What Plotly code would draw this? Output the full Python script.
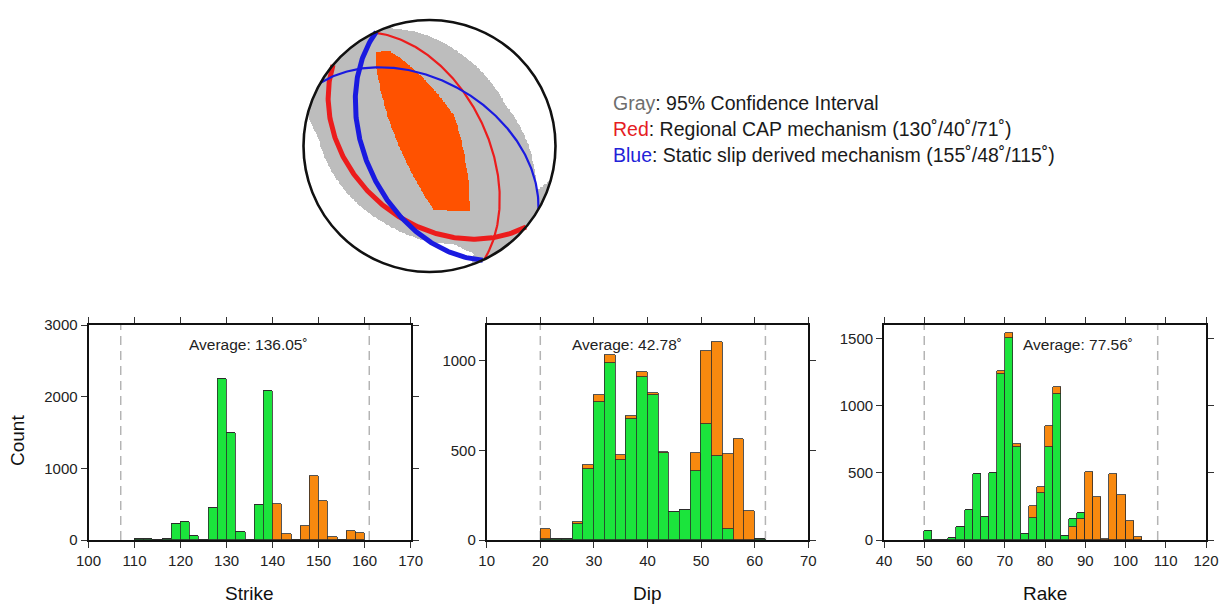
import numpy as np
import plotly.graph_objects as go

W, H = 1226, 606

# ---------------- histogram data (2-degree bins, centers) ----------------
strike_centers = [111, 113, 115, 117, 119, 121, 123, 125, 127, 129, 131, 133, 135,
                  137, 139, 141, 143, 145, 147, 149, 151, 153, 155, 157, 159]
strike_green = [8, 8, 0, 18, 220, 254, 54, 0, 452, 2240, 1487, 112, 0,
                489, 2079, 0, 0, 0, 0, 0, 0, 0, 0, 0, 0]
strike_orange = [0, 0, 0, 0, 0, 0, 0, 0, 0, 0, 0, 0, 0,
                 0, 0, 505, 77, 0, 200, 900, 546, 42, 0, 126, 98]

dip_centers = [21, 23, 25, 27, 29, 31, 33, 35, 37, 39, 41, 43, 45, 47, 49, 51, 53, 55, 57, 59, 61]
dip_green = [4, 3, 3, 89, 395, 771, 987, 447, 674, 912, 808, 484, 155, 168, 387, 650, 471, 63, 0, 0, 4]
dip_orange = [57, 0, 0, 13, 22, 41, 45, 26, 19, 27, 11, 6, 0, 0, 97, 406, 633, 417, 562, 164, 4]

rake_centers = [51, 53, 55, 57, 59, 61, 63, 65, 67, 69, 71, 73, 75, 77, 79, 81, 83, 85,
                87, 89, 91, 93, 95, 97, 99, 101, 103]
rake_orange_low = [0, 0, 0, 0, 0, 0, 0, 0, 0, 0, 0, 0, 0, 0, 0, 0, 0, 0,
                   99, 153, 0, 0, 0, 0, 0, 0, 0]
rake_green = [69, 0, 0, 12, 94, 223, 491, 169, 496, 1232, 1500, 694, 45, 161, 347, 689, 1086, 28,
              57, 50, 0, 0, 0, 0, 0, 0, 0]
rake_orange = [0, 0, 0, 0, 0, 0, 0, 0, 0, 23, 37, 20, 0, 92, 50, 159, 55, 0,
               0, 0, 508, 317, 10, 491, 335, 144, 22]

averages = ["Average: 136.05˚", "Average: 42.78˚", "Average: 77.56˚"]
bounds = [(107, 161), (20, 62), (50, 108)]
xlabels = ["Strike", "Dip", "Rake"]

# ---------------- focal mechanisms ----------------
red_mech = (130, 40, 71)     # Regional CAP
blue_mech = (155, 48, 115)   # Static slip derived
# sample of solutions inside the 95% confidence interval (strike, dip, rake): gray = union of P quadrants
ci_strike = [125, 112, 118, 129, 130, 139, 117, 150, 148, 105, 152]
ci_dip = [30, 36, 34, 32, 40, 46, 30, 58, 56, 50, 58]
ci_rake = [70, 60, 62, 70, 71, 80, 50, 88, 84, 62, 104]
# extreme solutions bounding the always-compressional core (orange = intersection)
core_strike = [155, 117, 115]
core_dip = [72, 30, 28]
core_rake = [85, 45, 60]

GREEN = "#1be43c"
ORANGE = "#f8890f"
EDGE = "#2b2b2b"
FONT = "Liberation Sans, Arial, sans-serif"


def px(xp):
    return xp / W


def py(yp):
    return 1 - yp / H


def vectors(strike, dip, rake):
    f, d, l = np.radians([strike, dip, rake])
    n = np.array([-np.sin(d) * np.sin(f), np.sin(d) * np.cos(f), -np.cos(d)])
    s = np.array([np.cos(l) * np.cos(f) + np.sin(l) * np.cos(d) * np.sin(f),
                  np.cos(l) * np.sin(f) - np.sin(l) * np.cos(d) * np.cos(f),
                  -np.sin(l) * np.sin(d)])
    return n, s


def aux_plane(strike, dip, rake):
    n, s = vectors(strike, dip, rake)
    if s[2] > 0:
        s = -s
    dip2 = np.degrees(np.arccos(-s[2]))
    strike2 = np.degrees(np.arctan2(-s[0], s[1])) % 360
    return strike2, dip2


def plane_curve(strike, dip, n=241):
    f = np.radians(strike)
    d = np.radians(dip)
    a = np.linspace(0, np.pi, n)
    az = f + a
    p = np.arctan(np.tan(d) * np.sin(a))
    r = np.sqrt(2) * np.sin((np.pi / 2 - p) / 2)
    return r * np.sin(az), r * np.cos(az)


fig = go.Figure()

# ---------------- beachball (lower hemisphere, equal area) ----------------
N = 321
g = np.linspace(-1, 1, N)
X, Y = np.meshgrid(g, g)
R = np.hypot(X, Y)
inside = R <= 1.0
theta = 2 * np.arcsin(np.clip(R, 0, 1) / np.sqrt(2))
AZ = np.arctan2(X, Y)
V = np.stack([np.sin(theta) * np.cos(AZ), np.sin(theta) * np.sin(AZ), np.cos(theta)], axis=-1)


def p_mask(strike, dip, rake):
    nv, sv = vectors(strike, dip, rake)
    return (V @ nv) * (V @ sv) > 0


union = np.zeros(R.shape, dtype=bool)
core = np.ones(R.shape, dtype=bool)
for s_, d_, r_ in zip(ci_strike, ci_dip, ci_rake):
    m = p_mask(s_, d_, r_)
    union |= m
    core &= m
for s_, d_, r_ in zip(core_strike, core_dip, core_rake):
    core &= p_mask(s_, d_, r_)
Z = np.where(core, 2.0, np.where(union, 1.0, 0.0))
Z = np.where(inside, Z, np.nan)
Zl = [[None if np.isnan(v) else int(v) for v in row] for row in Z]
fig.add_trace(go.Heatmap(
    x=g, y=g, z=Zl, xaxis="x4", yaxis="y4", zmin=0, zmax=2, showscale=False,
    hoverinfo="skip",
    colorscale=[[0, "rgba(255,255,255,0)"], [0.33, "rgba(255,255,255,0)"],
                [0.33, "#bdbdbd"], [0.67, "#bdbdbd"], [0.67, "#ff5200"], [1, "#ff5200"]]))

for mech, col in [(red_mech, "#ec1c1c"), (blue_mech, "#1a1ae0")]:
    s1, d1, r1 = mech
    s2, d2 = aux_plane(s1, d1, r1)
    for (ss, dd), wdt in [((s1, d1), 5), ((s2, d2), 2.2)]:
        cx, cy = plane_curve(ss, dd)
        fig.add_trace(go.Scatter(x=cx, y=cy, mode="lines", xaxis="x4", yaxis="y4",
                                 line=dict(color=col, width=wdt), hoverinfo="skip",
                                 showlegend=False))

# ---------------- histograms ----------------
hist_specs = [
    ("x", "y", strike_centers, [(strike_green, GREEN), (strike_orange, ORANGE)]),
    ("x2", "y2", dip_centers, [(dip_green, GREEN), (dip_orange, ORANGE)]),
    ("x3", "y3", rake_centers, [(rake_orange_low, ORANGE), (rake_green, GREEN), (rake_orange, ORANGE)]),
]
for xa, ya, centers, series in hist_specs:
    for vals, col in series:
        fig.add_trace(go.Bar(x=centers, y=vals, width=2, xaxis=xa, yaxis=ya,
                             marker=dict(color=col, line=dict(color=EDGE, width=0.8)),
                             showlegend=False, hoverinfo="skip"))

# panel geometry (pixels)
panels_x = [(88.5, 410.7), (486.7, 808.3), (884.0, 1206.0)]
panel_y = (325.0, 540.0)
xranges = [[100, 170], [10, 70], [40, 120]]
yranges = [[0, 3000], [0, 1200], [0, 1600]]
ydticks = [1000, 500, 500]

axis_common = dict(showline=True, linecolor="#111", linewidth=1.8, mirror="allticks",
                   ticks="outside", ticklen=6, tickwidth=1.2, tickcolor="#333",
                   showgrid=False, zeroline=False, automargin=False,
                   tickfont=dict(family=FONT, size=15, color="#222"))
layout = dict(width=W, height=H, margin=dict(l=0, r=0, t=0, b=0, pad=0, autoexpand=False),
              autosize=False,
              paper_bgcolor="white", plot_bgcolor="white", barmode="stack",
              bargap=0, showlegend=False)
shapes = []
annotations = []
for i in range(3):
    sx = "" if i == 0 else str(i + 1)
    layout["xaxis" + sx] = dict(domain=[px(panels_x[i][0]), px(panels_x[i][1])],
                                range=xranges[i], anchor="y" + sx, dtick=10,
                                **axis_common)
    layout["yaxis" + sx] = dict(domain=[py(panel_y[1]), py(panel_y[0])],
                                range=yranges[i], anchor="x" + sx, dtick=ydticks[i],
                                **axis_common)
    for b in bounds[i]:
        shapes.append(dict(type="line", xref="x" + sx, yref="y" + sx + " domain",
                           x0=b, x1=b, y0=0, y1=1,
                           line=dict(color="#b4b4b4", width=1.5, dash="9px,6px"),
                           layer="below"))
    annotations.append(dict(text=xlabels[i], xref="paper", yref="paper",
                            x=px((panels_x[i][0] + panels_x[i][1]) / 2), y=py(593),
                            showarrow=False, xanchor="center", yanchor="middle",
                            font=dict(family=FONT, size=19, color="#111")))

avg_pos = [248, 627, 1078]
for i in range(3):
    annotations.append(dict(text=averages[i], xref="paper", yref="paper",
                            x=px(avg_pos[i]), y=py(345), showarrow=False,
                            xanchor="center", yanchor="middle",
                            font=dict(family=FONT, size=15.5, color="#222")))

annotations.append(dict(text="Count", xref="paper", yref="paper", x=px(17), y=py(441),
                        showarrow=False, textangle=-90, xanchor="center", yanchor="middle",
                        font=dict(family=FONT, size=19, color="#111")))

legend_lines = [
    '<span style="color:#6e6e6e">Gray</span>: 95% Confidence Interval',
    '<span style="color:#e51c23">Red</span>: Regional CAP mechanism (130˚/40˚/71˚)',
    '<span style="color:#2222d8">Blue</span>: Static slip derived mechanism (155˚/48˚/115˚)',
]
for k, t in enumerate(legend_lines):
    annotations.append(dict(text=t, xref="paper", yref="paper", x=px(611), y=py([103, 129, 155][k]),
                            showarrow=False, xanchor="left", yanchor="middle",
                            font=dict(family=FONT, size=19.5, color="#1a1a1a")))

# beachball axes (equal scale)
cxp, cyp, rad = 429.5, 146.0, 126.0
half = rad * 1.05
layout["xaxis4"] = dict(domain=[px(cxp - half), px(cxp + half)], range=[-1.05, 1.05],
                        visible=False, anchor="y4", fixedrange=True, automargin=False)
layout["yaxis4"] = dict(domain=[py(cyp + half), py(cyp - half)], range=[-1.05, 1.05],
                        visible=False, anchor="x4", fixedrange=True, automargin=False)
shapes.append(dict(type="circle", xref="x4", yref="y4", x0=-1, x1=1, y0=-1, y1=1,
                   line=dict(color="#111", width=2.6), layer="above"))

layout["shapes"] = shapes
layout["annotations"] = annotations
fig.update_layout(**layout)
fig.write_html("out.html", config={"displayModeBar": False, "responsive": False},
               post_script="document.body.style.margin='0';")
